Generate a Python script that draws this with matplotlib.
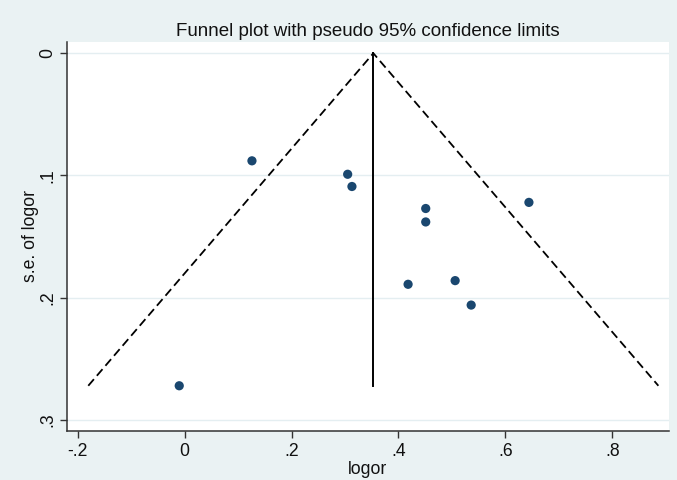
import matplotlib
matplotlib.use("Agg")
import matplotlib.pyplot as plt
import numpy as np

# Data
logor = [0.126, 0.305, 0.313, 0.451, 0.451, 0.644, 0.418, 0.506, 0.536, -0.010]
se_logor = [0.088, 0.099, 0.109, 0.127, 0.138, 0.122, 0.189, 0.186, 0.206, 0.272]
pooled = 0.353
xticks = [-0.2, 0, 0.2, 0.4, 0.6, 0.8]
xtick_labels = ["-.2", "0", ".2", ".4", ".6", ".8"]
yticks = [0, 0.1, 0.2, 0.3]
ytick_labels = ["0", ".1", ".2", ".3"]
title = "Funnel plot with pseudo 95% confidence limits"

plt.rcParams['font.family'] = ['Liberation Sans', 'DejaVu Sans']

BG = "#EAF2F3"
NAVY = "#1A476F"
TXT = "#111111"

fig = plt.figure(figsize=(6.77, 4.8), dpi=100, facecolor=BG)
ax = fig.add_axes([0.0985, 0.1021, 0.8897, 0.8104])
ax.set_facecolor("white")

semax = max(se_logor)
z = 1.96
# funnel limits
ax.plot([pooled - z * semax, pooled, pooled + z * semax], [semax, 0, semax],
        color="black", lw=1.3, linestyle=(0, (4.8, 2.5)), zorder=2)
ax.plot([pooled, pooled], [0, semax], color="black", lw=1.4, zorder=2)
ax.scatter(logor, se_logor, s=44, color=NAVY, edgecolors="none", zorder=3)

ax.set_xlim(-0.2205, 0.906)
ax.set_ylim(0.309, -0.0092)

ax.set_xticks(xticks)
ax.set_xticklabels(xtick_labels)
ax.set_yticks(yticks)
ax.set_yticklabels(ytick_labels, rotation=90, va="center")

for y in yticks:
    ax.axhline(y, color="#E4EEF1", lw=1.0, zorder=0)

for s in ["top", "right"]:
    ax.spines[s].set_visible(False)
for s in ["left", "bottom"]:
    ax.spines[s].set_color("#333333")
    ax.spines[s].set_linewidth(1.1)

ax.tick_params(axis="both", direction="out", length=5, width=1.0, color="#333333",
               labelsize=12.7, labelcolor=TXT)
ax.tick_params(axis="x", pad=4)
ax.tick_params(axis="y", pad=2.5)

ax.set_xlabel("logor", fontsize=12.7, color=TXT)
ax.set_ylabel("s.e. of logor", fontsize=12.7, color=TXT)
ax.xaxis.set_label_coords(0.5, -0.078)
ax.yaxis.set_label_coords(-0.046, 0.5)

ax.set_title(title, fontsize=13.5, color=TXT, pad=4)

fig.savefig("out.png", dpi=100, facecolor=BG)
